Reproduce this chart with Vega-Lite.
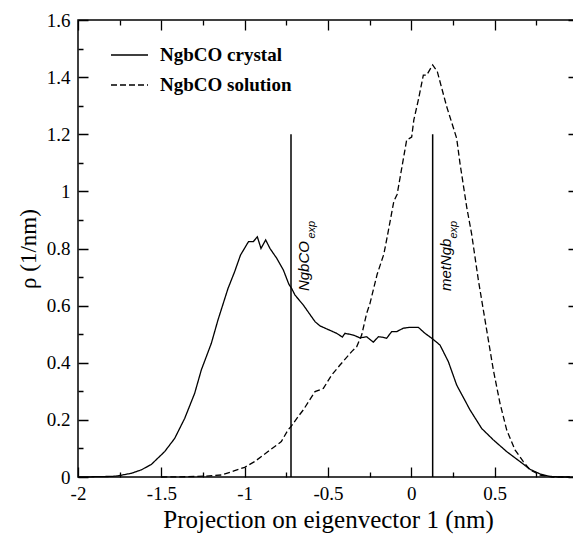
{
  "$schema": "https://vega.github.io/schema/vega-lite/v6.json",
  "width": 500,
  "height": 457,
  "autosize": {"type": "none"},
  "padding": {"left": 78, "top": 20, "right": 0, "bottom": 57},
  "background": "white",
  "config": {
    "view": {"stroke": "black", "strokeWidth": 1.5},
    "font": "Liberation Serif",
    "axis": {"domain": false, "ticks": false, "gridColor": "black", "gridOpacity": 1, "gridWidth": 1.3}
  },
  "datasets": {
    "curves": [
      {"series": "NgbCO crystal", "x": -2.0, "y": 0},
      {"series": "NgbCO crystal", "x": -1.9, "y": 0.001},
      {"series": "NgbCO crystal", "x": -1.8, "y": 0.002},
      {"series": "NgbCO crystal", "x": -1.76, "y": 0.004},
      {"series": "NgbCO crystal", "x": -1.68, "y": 0.013},
      {"series": "NgbCO crystal", "x": -1.62, "y": 0.025},
      {"series": "NgbCO crystal", "x": -1.56, "y": 0.044},
      {"series": "NgbCO crystal", "x": -1.48, "y": 0.089},
      {"series": "NgbCO crystal", "x": -1.42, "y": 0.135},
      {"series": "NgbCO crystal", "x": -1.36, "y": 0.205},
      {"series": "NgbCO crystal", "x": -1.30, "y": 0.293},
      {"series": "NgbCO crystal", "x": -1.26, "y": 0.375},
      {"series": "NgbCO crystal", "x": -1.20, "y": 0.468},
      {"series": "NgbCO crystal", "x": -1.16, "y": 0.55},
      {"series": "NgbCO crystal", "x": -1.10, "y": 0.66},
      {"series": "NgbCO crystal", "x": -1.06, "y": 0.719},
      {"series": "NgbCO crystal", "x": -1.025, "y": 0.777},
      {"series": "NgbCO crystal", "x": -0.977, "y": 0.824},
      {"series": "NgbCO crystal", "x": -0.948, "y": 0.824},
      {"series": "NgbCO crystal", "x": -0.924, "y": 0.841},
      {"series": "NgbCO crystal", "x": -0.902, "y": 0.80},
      {"series": "NgbCO crystal", "x": -0.874, "y": 0.83},
      {"series": "NgbCO crystal", "x": -0.848, "y": 0.80},
      {"series": "NgbCO crystal", "x": -0.808, "y": 0.766},
      {"series": "NgbCO crystal", "x": -0.768, "y": 0.725},
      {"series": "NgbCO crystal", "x": -0.735, "y": 0.675},
      {"series": "NgbCO crystal", "x": -0.718, "y": 0.66},
      {"series": "NgbCO crystal", "x": -0.698, "y": 0.637},
      {"series": "NgbCO crystal", "x": -0.648, "y": 0.602},
      {"series": "NgbCO crystal", "x": -0.578, "y": 0.544},
      {"series": "NgbCO crystal", "x": -0.548, "y": 0.529},
      {"series": "NgbCO crystal", "x": -0.448, "y": 0.503},
      {"series": "NgbCO crystal", "x": -0.414, "y": 0.49},
      {"series": "NgbCO crystal", "x": -0.398, "y": 0.503},
      {"series": "NgbCO crystal", "x": -0.348, "y": 0.497},
      {"series": "NgbCO crystal", "x": -0.308, "y": 0.487},
      {"series": "NgbCO crystal", "x": -0.268, "y": 0.491},
      {"series": "NgbCO crystal", "x": -0.228, "y": 0.472},
      {"series": "NgbCO crystal", "x": -0.198, "y": 0.491},
      {"series": "NgbCO crystal", "x": -0.168, "y": 0.489},
      {"series": "NgbCO crystal", "x": -0.148, "y": 0.486},
      {"series": "NgbCO crystal", "x": -0.118, "y": 0.509},
      {"series": "NgbCO crystal", "x": -0.088, "y": 0.509},
      {"series": "NgbCO crystal", "x": -0.048, "y": 0.521},
      {"series": "NgbCO crystal", "x": -0.008, "y": 0.524},
      {"series": "NgbCO crystal", "x": 0.042, "y": 0.524},
      {"series": "NgbCO crystal", "x": 0.082, "y": 0.503},
      {"series": "NgbCO crystal", "x": 0.122, "y": 0.486},
      {"series": "NgbCO crystal", "x": 0.172, "y": 0.462},
      {"series": "NgbCO crystal", "x": 0.222, "y": 0.404},
      {"series": "NgbCO crystal", "x": 0.272, "y": 0.322},
      {"series": "NgbCO crystal", "x": 0.352, "y": 0.235},
      {"series": "NgbCO crystal", "x": 0.422, "y": 0.17},
      {"series": "NgbCO crystal", "x": 0.492, "y": 0.13},
      {"series": "NgbCO crystal", "x": 0.572, "y": 0.089},
      {"series": "NgbCO crystal", "x": 0.652, "y": 0.054},
      {"series": "NgbCO crystal", "x": 0.712, "y": 0.027},
      {"series": "NgbCO crystal", "x": 0.772, "y": 0.011},
      {"series": "NgbCO crystal", "x": 0.832, "y": 0.002},
      {"series": "NgbCO crystal", "x": 0.9, "y": 0},
      {"series": "NgbCO crystal", "x": 0.95, "y": 0},
      {"series": "NgbCO solution", "x": -1.5, "y": 0},
      {"series": "NgbCO solution", "x": -1.34, "y": 0.001},
      {"series": "NgbCO solution", "x": -1.24, "y": 0.003},
      {"series": "NgbCO solution", "x": -1.14, "y": 0.007},
      {"series": "NgbCO solution", "x": -1.06, "y": 0.022},
      {"series": "NgbCO solution", "x": -1.0, "y": 0.034},
      {"series": "NgbCO solution", "x": -0.94, "y": 0.054},
      {"series": "NgbCO solution", "x": -0.86, "y": 0.089},
      {"series": "NgbCO solution", "x": -0.78, "y": 0.124},
      {"series": "NgbCO solution", "x": -0.74, "y": 0.165},
      {"series": "NgbCO solution", "x": -0.72, "y": 0.178},
      {"series": "NgbCO solution", "x": -0.68, "y": 0.211},
      {"series": "NgbCO solution", "x": -0.648, "y": 0.235},
      {"series": "NgbCO solution", "x": -0.578, "y": 0.299},
      {"series": "NgbCO solution", "x": -0.528, "y": 0.31},
      {"series": "NgbCO solution", "x": -0.478, "y": 0.357},
      {"series": "NgbCO solution", "x": -0.428, "y": 0.392},
      {"series": "NgbCO solution", "x": -0.358, "y": 0.439},
      {"series": "NgbCO solution", "x": -0.328, "y": 0.456},
      {"series": "NgbCO solution", "x": -0.298, "y": 0.497},
      {"series": "NgbCO solution", "x": -0.268, "y": 0.573},
      {"series": "NgbCO solution", "x": -0.248, "y": 0.608},
      {"series": "NgbCO solution", "x": -0.205, "y": 0.71},
      {"series": "NgbCO solution", "x": -0.165, "y": 0.78},
      {"series": "NgbCO solution", "x": -0.145, "y": 0.84},
      {"series": "NgbCO solution", "x": -0.105, "y": 0.965},
      {"series": "NgbCO solution", "x": -0.085, "y": 0.99},
      {"series": "NgbCO solution", "x": -0.028, "y": 1.18},
      {"series": "NgbCO solution", "x": 0.002, "y": 1.19},
      {"series": "NgbCO solution", "x": 0.015, "y": 1.25},
      {"series": "NgbCO solution", "x": 0.042, "y": 1.32},
      {"series": "NgbCO solution", "x": 0.072, "y": 1.407},
      {"series": "NgbCO solution", "x": 0.092, "y": 1.407},
      {"series": "NgbCO solution", "x": 0.128, "y": 1.443},
      {"series": "NgbCO solution", "x": 0.156, "y": 1.419},
      {"series": "NgbCO solution", "x": 0.212, "y": 1.297},
      {"series": "NgbCO solution", "x": 0.272, "y": 1.186},
      {"series": "NgbCO solution", "x": 0.292, "y": 1.098},
      {"series": "NgbCO solution", "x": 0.332, "y": 0.946},
      {"series": "NgbCO solution", "x": 0.362, "y": 0.85},
      {"series": "NgbCO solution", "x": 0.402, "y": 0.69},
      {"series": "NgbCO solution", "x": 0.452, "y": 0.515},
      {"series": "NgbCO solution", "x": 0.492, "y": 0.375},
      {"series": "NgbCO solution", "x": 0.532, "y": 0.258},
      {"series": "NgbCO solution", "x": 0.572, "y": 0.165},
      {"series": "NgbCO solution", "x": 0.622, "y": 0.095},
      {"series": "NgbCO solution", "x": 0.672, "y": 0.054},
      {"series": "NgbCO solution", "x": 0.712, "y": 0.025},
      {"series": "NgbCO solution", "x": 0.772, "y": 0.007},
      {"series": "NgbCO solution", "x": 0.85, "y": 0},
      {"series": "NgbCO solution", "x": 0.95, "y": 0}
    ],
    "refs": [
      {"name": "NgbCO", "sub": "exp", "x": -0.722, "top": 1.2},
      {"name": "metNgb", "sub": "exp", "x": 0.128, "top": 1.2}
    ]
  },
  "resolve": {"axis": {"x": "independent", "y": "independent"}},
  "layer": [
    {
      "data": {"name": "curves"},
      "mark": {"type": "line", "color": "black", "strokeWidth": 1.3},
      "encoding": {
        "x": {
          "field": "x", "type": "quantitative",
          "scale": {"domain": [-2, 1], "nice": false, "zero": false},
          "axis": {
            "orient": "bottom",
            "values": [-2, -1.5, -1, -0.5, 0, 0.5],
            "grid": true, "gridDash": [10, 437, 10, 2000],
            "labelExpr": "'' + datum.value",
            "labelFont": "Liberation Serif", "labelFontSize": 19, "labelColor": "black",
            "labelPadding": 7, "labelFlush": false, "labelOverlap": false,
            "title": "Projection on eigenvector 1 (nm)",
            "titleFont": "Liberation Serif", "titleFontSize": 25, "titleFontWeight": "normal",
            "titleColor": "black", "titlePadding": 4
          }
        },
        "y": {
          "field": "y", "type": "quantitative",
          "scale": {"domain": [0, 1.6], "nice": false},
          "axis": {
            "orient": "left",
            "values": [0, 0.2, 0.4, 0.6, 0.8, 1, 1.2, 1.4, 1.6],
            "grid": true, "gridDash": [10, 480, 10, 2000],
            "labelExpr": "'' + datum.value",
            "labelFont": "Liberation Serif", "labelFontSize": 19, "labelColor": "black",
            "labelPadding": 8, "labelFlush": false, "labelOverlap": false,
            "title": "ρ  (1/nm)",
            "titleFont": "Liberation Serif", "titleFontSize": 23, "titleFontWeight": "normal",
            "titleColor": "black", "titlePadding": 6
          }
        },
        "strokeDash": {
          "field": "series", "type": "nominal",
          "scale": {"domain": ["NgbCO crystal", "NgbCO solution"], "range": [[1, 0], [6, 3]]},
          "legend": {
            "orient": "none", "legendX": 32, "legendY": 27, "title": null,
            "symbolType": "stroke", "symbolSize": 1369, "symbolStrokeWidth": 1.4,
            "symbolStrokeColor": "black",
            "labelFont": "Liberation Serif", "labelFontWeight": "bold", "labelFontSize": 19,
            "labelColor": "black", "labelOffset": 11, "clipHeight": 16, "rowPadding": 11,
            "padding": 0
          }
        }
      }
    },
    {
      "data": {"name": "refs"},
      "mark": {"type": "rule", "color": "black", "strokeWidth": 1.5},
      "encoding": {
        "x": {
          "field": "x", "type": "quantitative",
          "axis": {
            "orient": "top",
            "values": [-1.75, -1.25, -0.75, -0.25, 0.25, 0.75],
            "grid": true, "gridDash": [5, 447, 5, 2000],
            "labels": false, "title": null
          }
        },
        "y": {
          "field": "top", "type": "quantitative",
          "axis": {
            "orient": "right",
            "values": [0.1, 0.3, 0.5, 0.7, 0.9, 1.1, 1.3, 1.5],
            "grid": true, "gridDash": [5, 490, 5, 2000],
            "labels": false, "title": null
          }
        },
        "y2": {"datum": 0}
      }
    },
    {
      "data": {"name": "refs"},
      "mark": {"type": "text", "angle": 270, "align": "left", "baseline": "alphabetic", "dy": 18,
               "font": "Liberation Sans", "fontStyle": "italic", "fontSize": 15, "color": "black"},
      "encoding": {
        "x": {"field": "x", "type": "quantitative", "axis": null},
        "y": {"datum": 0.651, "type": "quantitative", "axis": null},
        "text": {"field": "name"}
      }
    },
    {
      "data": {"name": "refs"},
      "mark": {"type": "text", "angle": 270, "align": "left", "baseline": "alphabetic", "dy": 24,
               "font": "Liberation Sans", "fontStyle": "italic", "fontSize": 11, "color": "black"},
      "encoding": {
        "x": {"field": "x", "type": "quantitative", "axis": null},
        "y": {"datum": 0.835, "type": "quantitative", "axis": null},
        "text": {"field": "sub"}
      }
    }
  ]
}
